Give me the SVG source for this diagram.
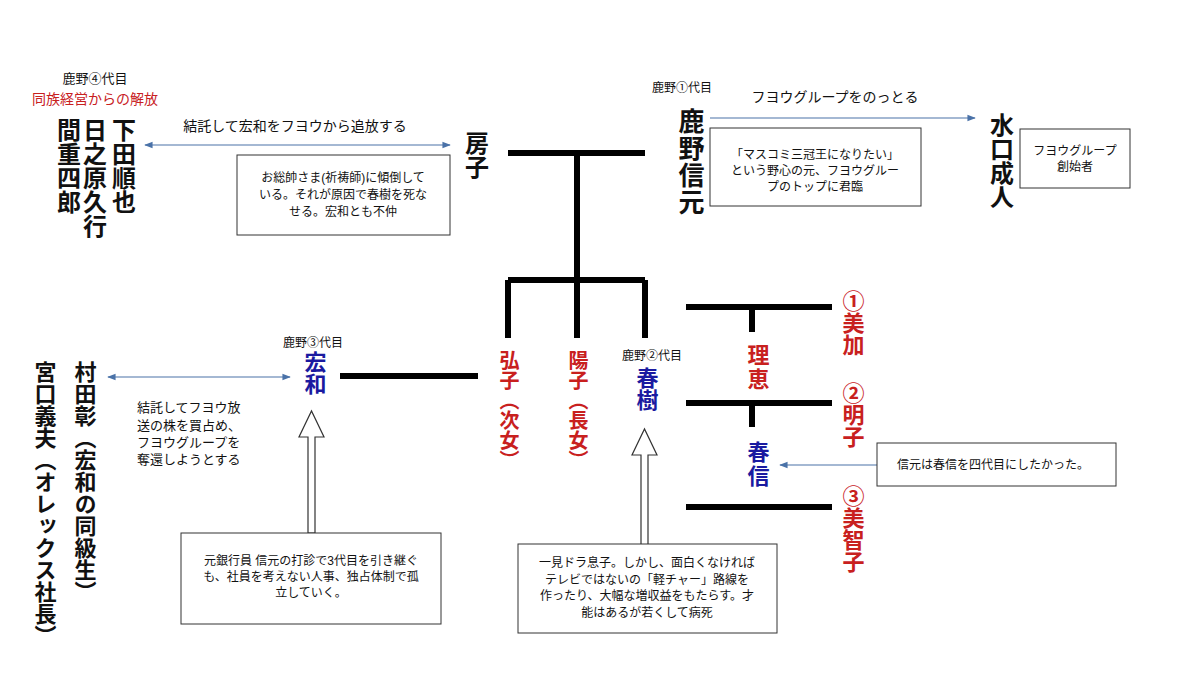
<svg xmlns="http://www.w3.org/2000/svg" width="1200" height="675" viewBox="0 0 1200 675">
<style>
text{font-family:"Liberation Sans","Noto Sans CJK JP",sans-serif;fill:#111}
.v{writing-mode:vertical-rl;font-weight:bold}
.sm{font-size:12px;text-anchor:middle}
.lb{font-size:13px;text-anchor:middle}
.red{fill:#c8201e}
.blue{fill:#1a1aa0}
.box{fill:#fff;stroke:#333;stroke-width:1}
.thick{stroke:#000;stroke-width:6;fill:none}
.thin{stroke:#4a72a8;stroke-width:1.2;fill:none}
.blk{fill:#fff;stroke:#333;stroke-width:1.2}
</style>
<defs>
<marker id="ah" viewBox="0 0 10 10" refX="9" refY="5" markerWidth="7" markerHeight="7" orient="auto-start-reverse"><path d="M0,1 L10,5 L0,9 z" fill="#4a72a8"/></marker>
</defs>
<rect width="1200" height="675" fill="#fff"/>
<g id="connectors">
<path class="thick" d="M508,153H645M577,153V280M508,280H645M508,280V338M577,280V338M645,280V338"/>
<path class="thick" d="M340,376H478"/>
<path class="thick" d="M686,307H832M752,307V332M686,403H832M752,403V427M686,507H832"/>
<line class="thin" x1="145" y1="145" x2="450" y2="145" marker-start="url(#ah)" marker-end="url(#ah)"/>
<line class="thin" x1="710" y1="118" x2="975" y2="118" marker-end="url(#ah)"/>
<line class="thin" x1="108" y1="377" x2="290" y2="377" marker-start="url(#ah)" marker-end="url(#ah)"/>
<line class="thin" x1="877" y1="465" x2="780" y2="465" marker-end="url(#ah)"/>
<path class="blk" d="M308,533V437H299L311.5,411L324,437H315V533Z"/>
<path class="blk" d="M641,545V455H632L644.5,429L657,455H648V545Z"/>
<text class="lb" x="295" y="131" style="font-size:14px">結託して宏和をフヨウから追放する</text>
<text class="lb" x="835" y="102" style="font-size:14px">フヨウグループをのっとる</text>
</g>
<g id="yon">
<text class="lb" x="95" y="83">鹿野④代目</text>
<text class="lb red" x="95" y="104" style="font-size:14px">同族経営からの解放</text>
<text class="v" x="122" y="118" style="font-size:24px">下田順也</text>
<text class="v" x="93" y="118" style="font-size:24px">日之原久行</text>
<text class="v" x="67" y="118" style="font-size:24px">間重四郎</text>
</g>
<g id="fusako-note">
<rect class="box" x="237" y="155" width="213" height="80"/>
<text class="sm" x="343" y="182">お総帥さま(祈祷師)に傾倒して</text>
<text class="sm" x="343" y="199">いる。それが原因で春樹を死な</text>
<text class="sm" x="343" y="216">せる。宏和とも不仲</text>
</g>
<g id="fusako"><text class="v" x="475" y="131" style="font-size:24px">房子</text></g>
<g id="nobumoto">
<text class="sm" x="682" y="92">鹿野①代目</text>
<text class="v" x="689" y="108" style="font-size:26px;letter-spacing:1px">鹿野信元</text>
</g>
<g id="nobumoto-note">
<rect class="box" x="710" y="128" width="211" height="78"/>
<text class="sm" x="815" y="159">「マスコミ三冠王になりたい」</text>
<text class="sm" x="815" y="175">という野心の元、フヨウグルー</text>
<text class="sm" x="815" y="191">プのトップに君臨</text>
</g>
<g id="minakuchi">
<text class="v" x="1000" y="113" style="font-size:24px">水口成人</text>
</g>
<g id="minakuchi-note">
<rect class="box" x="1020" y="129" width="110" height="59"/>
<text class="sm" x="1075" y="155">フヨウグループ</text>
<text class="sm" x="1075" y="171">創始者</text>
</g>
<g id="hirokazu">
<text class="sm" x="313" y="347">鹿野③代目</text>
<text class="v blue" x="313" y="351" style="font-size:22px">宏和</text>
</g>
<g id="hirokazu-note">
<text x="137" y="412" style="font-size:13px">結託してフヨウ放</text>
<text x="137" y="430" style="font-size:13px">送の株を買占め、</text>
<text x="137" y="447" style="font-size:13px">フヨウグループを</text>
<text x="137" y="464" style="font-size:13px">奪還しようとする</text>
<rect class="box" x="181" y="533" width="260" height="91"/>
<text class="sm" x="311" y="565">元銀行員 信元の打診で3代目を引き継ぐ</text>
<text class="sm" x="311" y="581">も、社員を考えない人事、独占体制で孤</text>
<text class="sm" x="311" y="597">立していく。</text>
</g>
<g id="murata"><text class="v" x="83" y="361" style="font-size:22px">村田彰（宏和の同級生）</text></g>
<g id="miyaguchi"><text class="v" x="43" y="361" style="font-size:22px">宮口義夫（オレックス社長）</text></g>
<g id="hiroko"><text class="v red" x="508" y="350" style="font-size:20px">弘子（次女）</text></g>
<g id="yoko"><text class="v red" x="577" y="350" style="font-size:20px">陽子（長女）</text></g>
<g id="haruki">
<text class="sm" x="652" y="360">鹿野②代目</text>
<text class="v blue" x="645" y="367" style="font-size:22px">春樹</text>
</g>
<g id="haruki-note">
<rect class="box" x="518" y="544" width="259" height="89"/>
<text class="sm" x="647" y="567">一見ドラ息子。しかし、面白くなければ</text>
<text class="sm" x="647" y="584">テレビではないの「軽チャー」路線を</text>
<text class="sm" x="647" y="600">作ったり、大幅な増収益をもたらす。才</text>
<text class="sm" x="647" y="617">能はあるが若くして病死</text>
</g>
<g id="rie"><text class="v red" x="756" y="344" style="font-size:22px;letter-spacing:2px">理恵</text></g>
<g id="mika"><text class="v red" x="851" y="290" style="font-size:22px">①美加</text></g>
<g id="akiko"><text class="v red" x="851" y="382" style="font-size:22px">②明子</text></g>
<g id="harunobu"><text class="v blue" x="756" y="441" style="font-size:22px;letter-spacing:2px">春信</text></g>
<g id="michiko"><text class="v red" x="851" y="485" style="font-size:22px">③美智子</text></g>
<g id="harunobu-note">
<rect class="box" x="877" y="443" width="239" height="43"/>
<text class="sm" x="993" y="469">信元は春信を四代目にしたかった。</text>
</g>
</svg>
